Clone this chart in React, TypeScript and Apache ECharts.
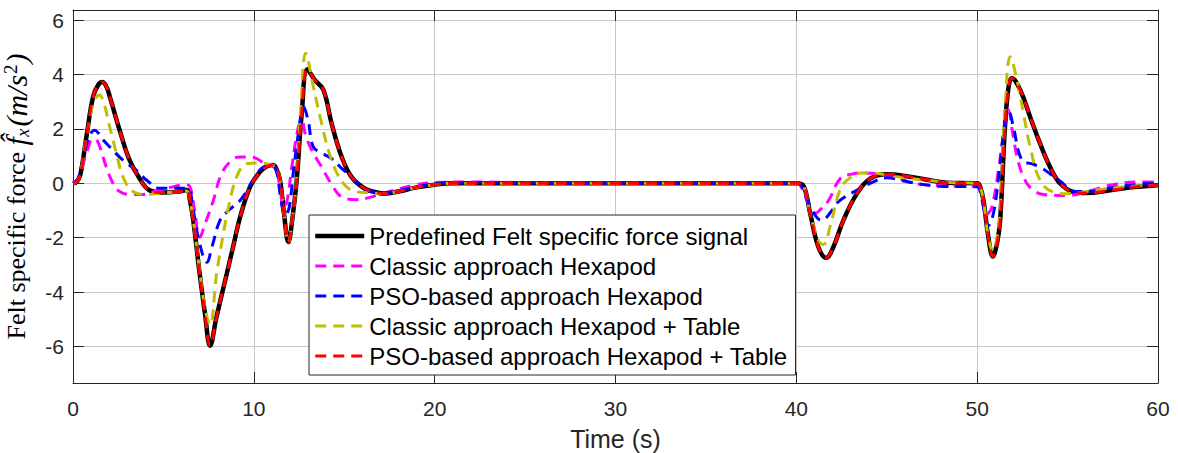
import React, { useEffect, useRef } from "react";
import * as echarts from "echarts";

// ---- data (time in s, felt specific force in m/s^2) ----
const xTicks = [0, 10, 20, 30, 40, 50, 60];
const yTicks = [-6, -4, -2, 0, 2, 4, 6];

const seriesNames = [
  "Predefined Felt specific force signal",
  "Classic approach Hexapod",
  "PSO-based approach Hexapod",
  "Classic approach Hexapod + Table",
  "PSO-based approach Hexapod + Table",
];

const predefined: number[][] = [
  [0, 0], [0.2, 0.05], [0.4, 0.3], [0.74, 1.7], [1.11, 3.18], [1.4, 3.62], [1.62, 3.72], [1.85, 3.55],
  [2.05, 3.15], [2.58, 1.95], [3.13, 0.85], [3.69, 0.17], [4.24, -0.26], [5.0, -0.34], [5.9, -0.3],
  [6.3, -0.25], [6.47, -0.63], [6.65, -1.36], [7.0, -3.3], [7.3, -4.8], [7.58, -5.97], [7.94, -4.9],
  [8.5, -3.33], [8.9, -2.2], [9.24, -1.24], [9.79, -0.13], [10.2, 0.3], [10.53, 0.54], [11.0, 0.67],
  [11.2, 0.6], [11.45, 0.11], [11.65, -1.0], [11.91, -2.16], [12.15, -1.2], [12.37, 0.11], [12.65, 2.57],
  [12.96, 4.19], [13.38, 3.79], [13.85, 3.43], [14.3, 2.2], [14.86, 0.97], [15.41, 0.23], [16.15, -0.2],
  [16.7, -0.32], [17.2, -0.38], [18, -0.3], [19, -0.15], [20, -0.05], [21, 0], [30, 0], [40, 0],
  [40.4, -0.1], [40.77, -1.12], [41.22, -2.34], [41.65, -2.74], [42.05, -2.34], [42.6, -1.36],
  [43.35, -0.38], [44.08, 0.17], [45.0, 0.33], [46.1, 0.26], [47.4, 0.11], [48.3, 0.02], [50.0, 0],
  [50.15, -0.1], [50.35, -0.63], [50.6, -1.9], [50.87, -2.69], [51.1, -2.2], [51.27, -1.36], [51.55, 2.2],
  [51.75, 3.6], [51.92, 3.86], [52.38, 3.43], [52.93, 2.44], [53.48, 1.46], [54.03, 0.6], [54.59, -0.01],
  [55.33, -0.32], [56.06, -0.36], [57.36, -0.26], [58.65, -0.14], [60, -0.07],
];

const classicHexapod: number[][] = [
  [0, 0], [0.3, 0.2], [0.74, 1.09], [1.11, 1.64], [1.3, 1.6], [1.47, 1.37], [1.84, 0.6], [2.21, 0],
  [2.58, -0.3], [3.13, -0.41], [3.8, -0.41], [4.5, -0.3], [5.53, -0.13], [6.2, -0.05], [6.45, -0.1],
  [6.7, -0.9], [7.02, -1.98], [7.3, -1.5], [7.76, -0.63], [8.22, 0.36], [8.78, 0.85], [9.24, 0.97],
  [9.7, 0.97], [10.16, 0.91], [10.6, 0.72], [11.0, 0.65], [11.25, 0.5], [11.45, -0.2], [11.65, -0.95],
  [11.85, -0.6], [12.1, 0.6], [12.46, 2.07], [12.65, 2.3], [12.85, 1.8], [13.2, 1.22], [13.75, 0.6],
  [14.3, -0.04], [14.86, -0.5], [15.7, -0.6], [16.5, -0.5], [17.5, -0.3], [19, -0.05], [20, 0.03],
  [22, 0.05], [25, 0.03], [30, 0.02], [40, 0.02], [40.2, -0.05], [40.5, -0.5], [40.77, -0.9],
  [41.05, -1.1], [41.35, -0.95], [41.78, -0.63], [42.42, 0.17], [43.0, 0.33], [43.53, 0.38], [44.4, 0.36],
  [45.7, 0.17], [46.5, 0.0], [47.5, -0.07], [49.5, -0.11], [50.0, -0.11], [50.2, -0.3], [50.5, -1.15],
  [50.8, -0.9], [51.2, 0.6], [51.5, 2.0], [51.73, 2.69], [51.95, 1.9], [52.2, 1.0], [52.56, 0.23],
  [53.0, -0.2], [53.66, -0.41], [54.95, -0.45], [56.3, -0.26], [57.5, -0.05], [59, 0.05], [60, 0.05],
];

const psoHexapod: number[][] = [
  [0, 0], [0.3, 0.2], [0.83, 1.6], [1.2, 1.95], [1.4, 1.85], [1.66, 1.6], [2.03, 1.34], [2.76, 0.85],
  [3.5, 0.48], [4.06, 0.12], [4.8, -0.18], [6.0, -0.18], [6.4, -0.2], [6.6, -0.8], [7.0, -2.2], [7.4, -2.9],
  [7.7, -2.3], [8.13, -1.36], [8.6, -1.0], [9.24, -0.63], [9.97, 0.11], [10.53, 0.6], [11.0, 0.65],
  [11.25, 0.45], [11.5, -0.6], [11.73, -1.18], [11.95, -0.9], [12.2, 0.5], [12.5, 2.0], [12.74, 2.81],
  [13.0, 2.32], [13.29, 1.34], [13.8, 1.1], [14.3, 0.91], [14.86, 0.55], [15.4, 0.23], [15.97, -0.14],
  [16.5, -0.3], [17.2, -0.35], [18.5, -0.2], [20, -0.02], [21, 0.02], [30, 0.02], [40, 0.02], [40.3, -0.1],
  [40.8, -0.9], [41.4, -1.36], [42.05, -0.93], [42.3, -0.69], [43.16, -0.32], [44.45, 0.11], [45.0, 0.2],
  [46.2, 0.05], [47.95, -0.11], [50, -0.13], [50.2, -0.4], [50.63, -1.55], [50.9, -1.1], [51.2, 0.3],
  [51.5, 2.0], [51.77, 2.6], [52.0, 2.07], [52.47, 0.85], [53.0, 0.72], [53.48, 0.6], [54.03, 0.35],
  [54.7, 0.02], [55.3, -0.3], [56.3, -0.3], [57.5, -0.15], [58.7, -0.05], [60, 0.0],
];

const classicTable: number[][] = [
  [0, 0], [0.2, 0.05], [0.4, 0.3], [0.74, 1.7], [1.11, 2.9], [1.45, 3.25], [1.66, 3.06], [2.03, 2.07],
  [2.4, 1.1], [2.77, 0.23], [3.32, -0.3], [4.06, -0.41], [5.0, -0.35], [6.0, -0.3], [6.3, -0.28],
  [6.47, -0.63], [6.65, -1.36], [7.0, -3.2], [7.3, -4.6], [7.58, -5.2], [7.94, -3.33], [8.3, -1.9],
  [8.6, -0.87], [9.05, 0.23], [9.6, 0.72], [10.3, 0.75], [11.0, 0.67], [11.2, 0.6], [11.45, 0.11],
  [11.65, -1.0], [11.91, -2.16], [12.15, -1.2], [12.37, 0.2], [12.6, 2.8], [12.87, 4.78], [13.29, 3.55],
  [13.75, 2.2], [14.3, 0.85], [14.95, 0], [15.6, -0.3], [16.5, -0.35], [17.2, -0.38], [18, -0.3],
  [19, -0.15], [20, -0.05], [21, 0], [30, 0], [40, 0], [40.4, -0.1], [40.77, -1.12], [41.22, -2.1],
  [41.5, -2.25], [41.86, -1.6], [42.4, -0.26], [42.8, 0.11], [43.6, 0.38], [44.4, 0.36], [45.7, 0.23],
  [47.4, 0.1], [48.5, 0.03], [50, 0], [50.15, -0.1], [50.35, -0.63], [50.6, -1.9], [50.87, -2.5],
  [51.1, -2.0], [51.27, -1.0], [51.55, 2.8], [51.83, 4.65], [52.2, 3.8], [52.56, 2.57], [52.93, 1.34],
  [53.48, 0.11], [54.2, -0.32], [55.0, -0.38], [56.5, -0.26], [58, -0.14], [60, -0.07],
];

const psoTable: number[][] = [
  [0, 0], [0.2, 0.05], [0.4, 0.3], [0.74, 1.7], [1.11, 3.18], [1.4, 3.62], [1.62, 3.72], [1.85, 3.55],
  [2.05, 3.15], [2.58, 1.95], [3.13, 0.85], [3.69, 0.17], [4.24, -0.26], [5.0, -0.34], [5.9, -0.3],
  [6.3, -0.25], [6.47, -0.63], [6.65, -1.36], [7.0, -3.3], [7.3, -4.8], [7.58, -5.97], [7.94, -4.9],
  [8.5, -3.33], [8.9, -2.2], [9.24, -1.24], [9.79, -0.13], [10.2, 0.3], [10.53, 0.54], [11.0, 0.67],
  [11.2, 0.6], [11.45, 0.11], [11.65, -1.0], [11.91, -2.16], [12.15, -1.2], [12.37, 0.11], [12.65, 2.57],
  [12.96, 4.19], [13.38, 3.79], [13.85, 3.43], [14.3, 2.2], [14.86, 0.97], [15.41, 0.23], [16.15, -0.2],
  [16.7, -0.32], [17.2, -0.38], [18, -0.3], [19, -0.15], [20, -0.05], [21, 0], [30, 0], [40, 0],
  [40.4, -0.1], [40.77, -1.12], [41.22, -2.34], [41.65, -2.74], [42.05, -2.34], [42.6, -1.36],
  [43.35, -0.38], [44.08, 0.17], [45.0, 0.33], [46.1, 0.26], [47.4, 0.11], [48.3, 0.02], [50.0, 0],
  [50.15, -0.1], [50.35, -0.63], [50.6, -1.9], [50.87, -2.69], [51.1, -2.2], [51.27, -1.36], [51.55, 2.2],
  [51.75, 3.6], [51.92, 3.86], [52.38, 3.43], [52.93, 2.44], [53.48, 1.46], [54.03, 0.6], [54.59, -0.01],
  [55.33, -0.32], [56.06, -0.36], [57.36, -0.26], [58.65, -0.14], [60, -0.07],
];

const seriesData = [predefined, classicHexapod, psoHexapod, classicTable, psoTable];
const seriesColors = ["#000000", "#ff00ff", "#0000ff", "#bfbf00", "#ff0000"];

const AXIS = "#262626";
const GRIDC = "#c8c8c8";
const SANS = "'Liberation Sans', Arial, Helvetica, sans-serif";
const SERIF = "'Liberation Serif', 'DejaVu Serif', serif";

export default function App() {
  const ref = useRef<HTMLDivElement>(null);
  useEffect(() => {
    if (!ref.current) return;
    const chart = echarts.init(ref.current, undefined, { renderer: "svg" });
    const X_MIN = 0, X_MAX = 60, Y_MIN = -7.34, Y_MAX = 6.37;
    const boxAxisX = (pos: "bottom" | "top", main: boolean) => ({
      type: "value",
      position: pos,
      min: X_MIN,
      max: X_MAX,
      interval: 10,
      axisLine: { show: true, onZero: false, lineStyle: { color: AXIS, width: 1 } },
      axisTick: { show: true, inside: true, length: 11, customValues: xTicks, lineStyle: { color: AXIS } },
      axisLabel: main
        ? { show: true, color: AXIS, fontSize: 21, fontFamily: SANS, margin: 15, customValues: xTicks }
        : { show: false },
      splitLine: main ? { show: true, lineStyle: { color: GRIDC, width: 1 } } : { show: false },
      name: main ? "Time (s)" : "",
      nameLocation: "middle",
      nameGap: 43,
      nameTextStyle: { color: AXIS, fontSize: 25, fontFamily: SANS },
    });
    const boxAxisY = (pos: "left" | "right", main: boolean) => ({
      type: "value",
      position: pos,
      min: Y_MIN,
      max: Y_MAX,
      axisLine: { show: true, onZero: false, lineStyle: { color: AXIS, width: 1 } },
      axisTick: { show: true, inside: true, length: 11, customValues: yTicks, lineStyle: { color: AXIS } },
      axisLabel: main
        ? { show: true, color: AXIS, fontSize: 21, fontFamily: SANS, margin: 9, customValues: yTicks }
        : { show: false },
      splitLine: main ? { show: true, lineStyle: { color: GRIDC, width: 1 } } : { show: false },
      name: main
        ? "{a|Felt specific force }{i|f\u0302}{sub|x}{i|(m/s}{sup|2}{i|)}"
        : "",
      nameLocation: "middle",
      nameGap: 38,
      nameRotate: 90,
      nameTextStyle: {
        color: "#000",
        fontSize: 26,
        fontFamily: SERIF,
        rich: {
          a: { fontSize: 26, fontFamily: SERIF, color: "#000", lineHeight: 36 },
          i: { fontSize: 30, fontFamily: SERIF, fontStyle: "italic", color: "#000", lineHeight: 36 },
          sub: { fontSize: 19, fontFamily: SERIF, fontStyle: "italic", color: "#000", lineHeight: 36, verticalAlign: "bottom", padding: [0, 2, 2, 0] },
          sup: { fontSize: 19, fontFamily: SERIF, color: "#000", lineHeight: 36, verticalAlign: "top", padding: [3, 1, 0, 1] },
        },
      },
    });

    chart.setOption({
      animation: false,
      backgroundColor: "#ffffff",
      grid: { left: 73, right: 20, top: 10, bottom: 70, containLabel: false, outerBoundsMode: "none" },
      xAxis: [boxAxisX("bottom", true), boxAxisX("top", false)],
      yAxis: [boxAxisY("left", true), boxAxisY("right", false)],
      legend: {
        orient: "vertical",
        left: 309,
        top: 215,
        padding: [9, 8, 7, 4],
        itemWidth: 49,
        itemHeight: 14,
        itemGap: 6,
        backgroundColor: "#ffffff",
        borderColor: AXIS,
        borderWidth: 1,
        itemStyle: { opacity: 0 },
        lineStyle: { width: "inherit" },
        textStyle: { color: "#000", fontSize: 24, fontFamily: SANS, lineHeight: 24 },
        data: seriesNames,
        z: 10,
      },
      series: seriesNames.map((name, i) => ({
        name,
        type: "line",
        xAxisIndex: 0,
        yAxisIndex: 0,
        data: seriesData[i],
        showSymbol: false,
        symbol: "none",
        smooth: 0.4,
        z: 2 + i,
        color: seriesColors[i],
        lineStyle: {
          color: seriesColors[i],
          width: i === 0 ? 4.5 : 3,
          type: i === 0 ? "solid" : [11, 7],
        },
      })),
    });
    return () => chart.dispose();
  }, []);
  return (
    <div
      ref={ref}
      style={{ position: "fixed", left: 0, top: 0, width: 1178, height: 453, background: "#fff" }}
    />
  );
}
